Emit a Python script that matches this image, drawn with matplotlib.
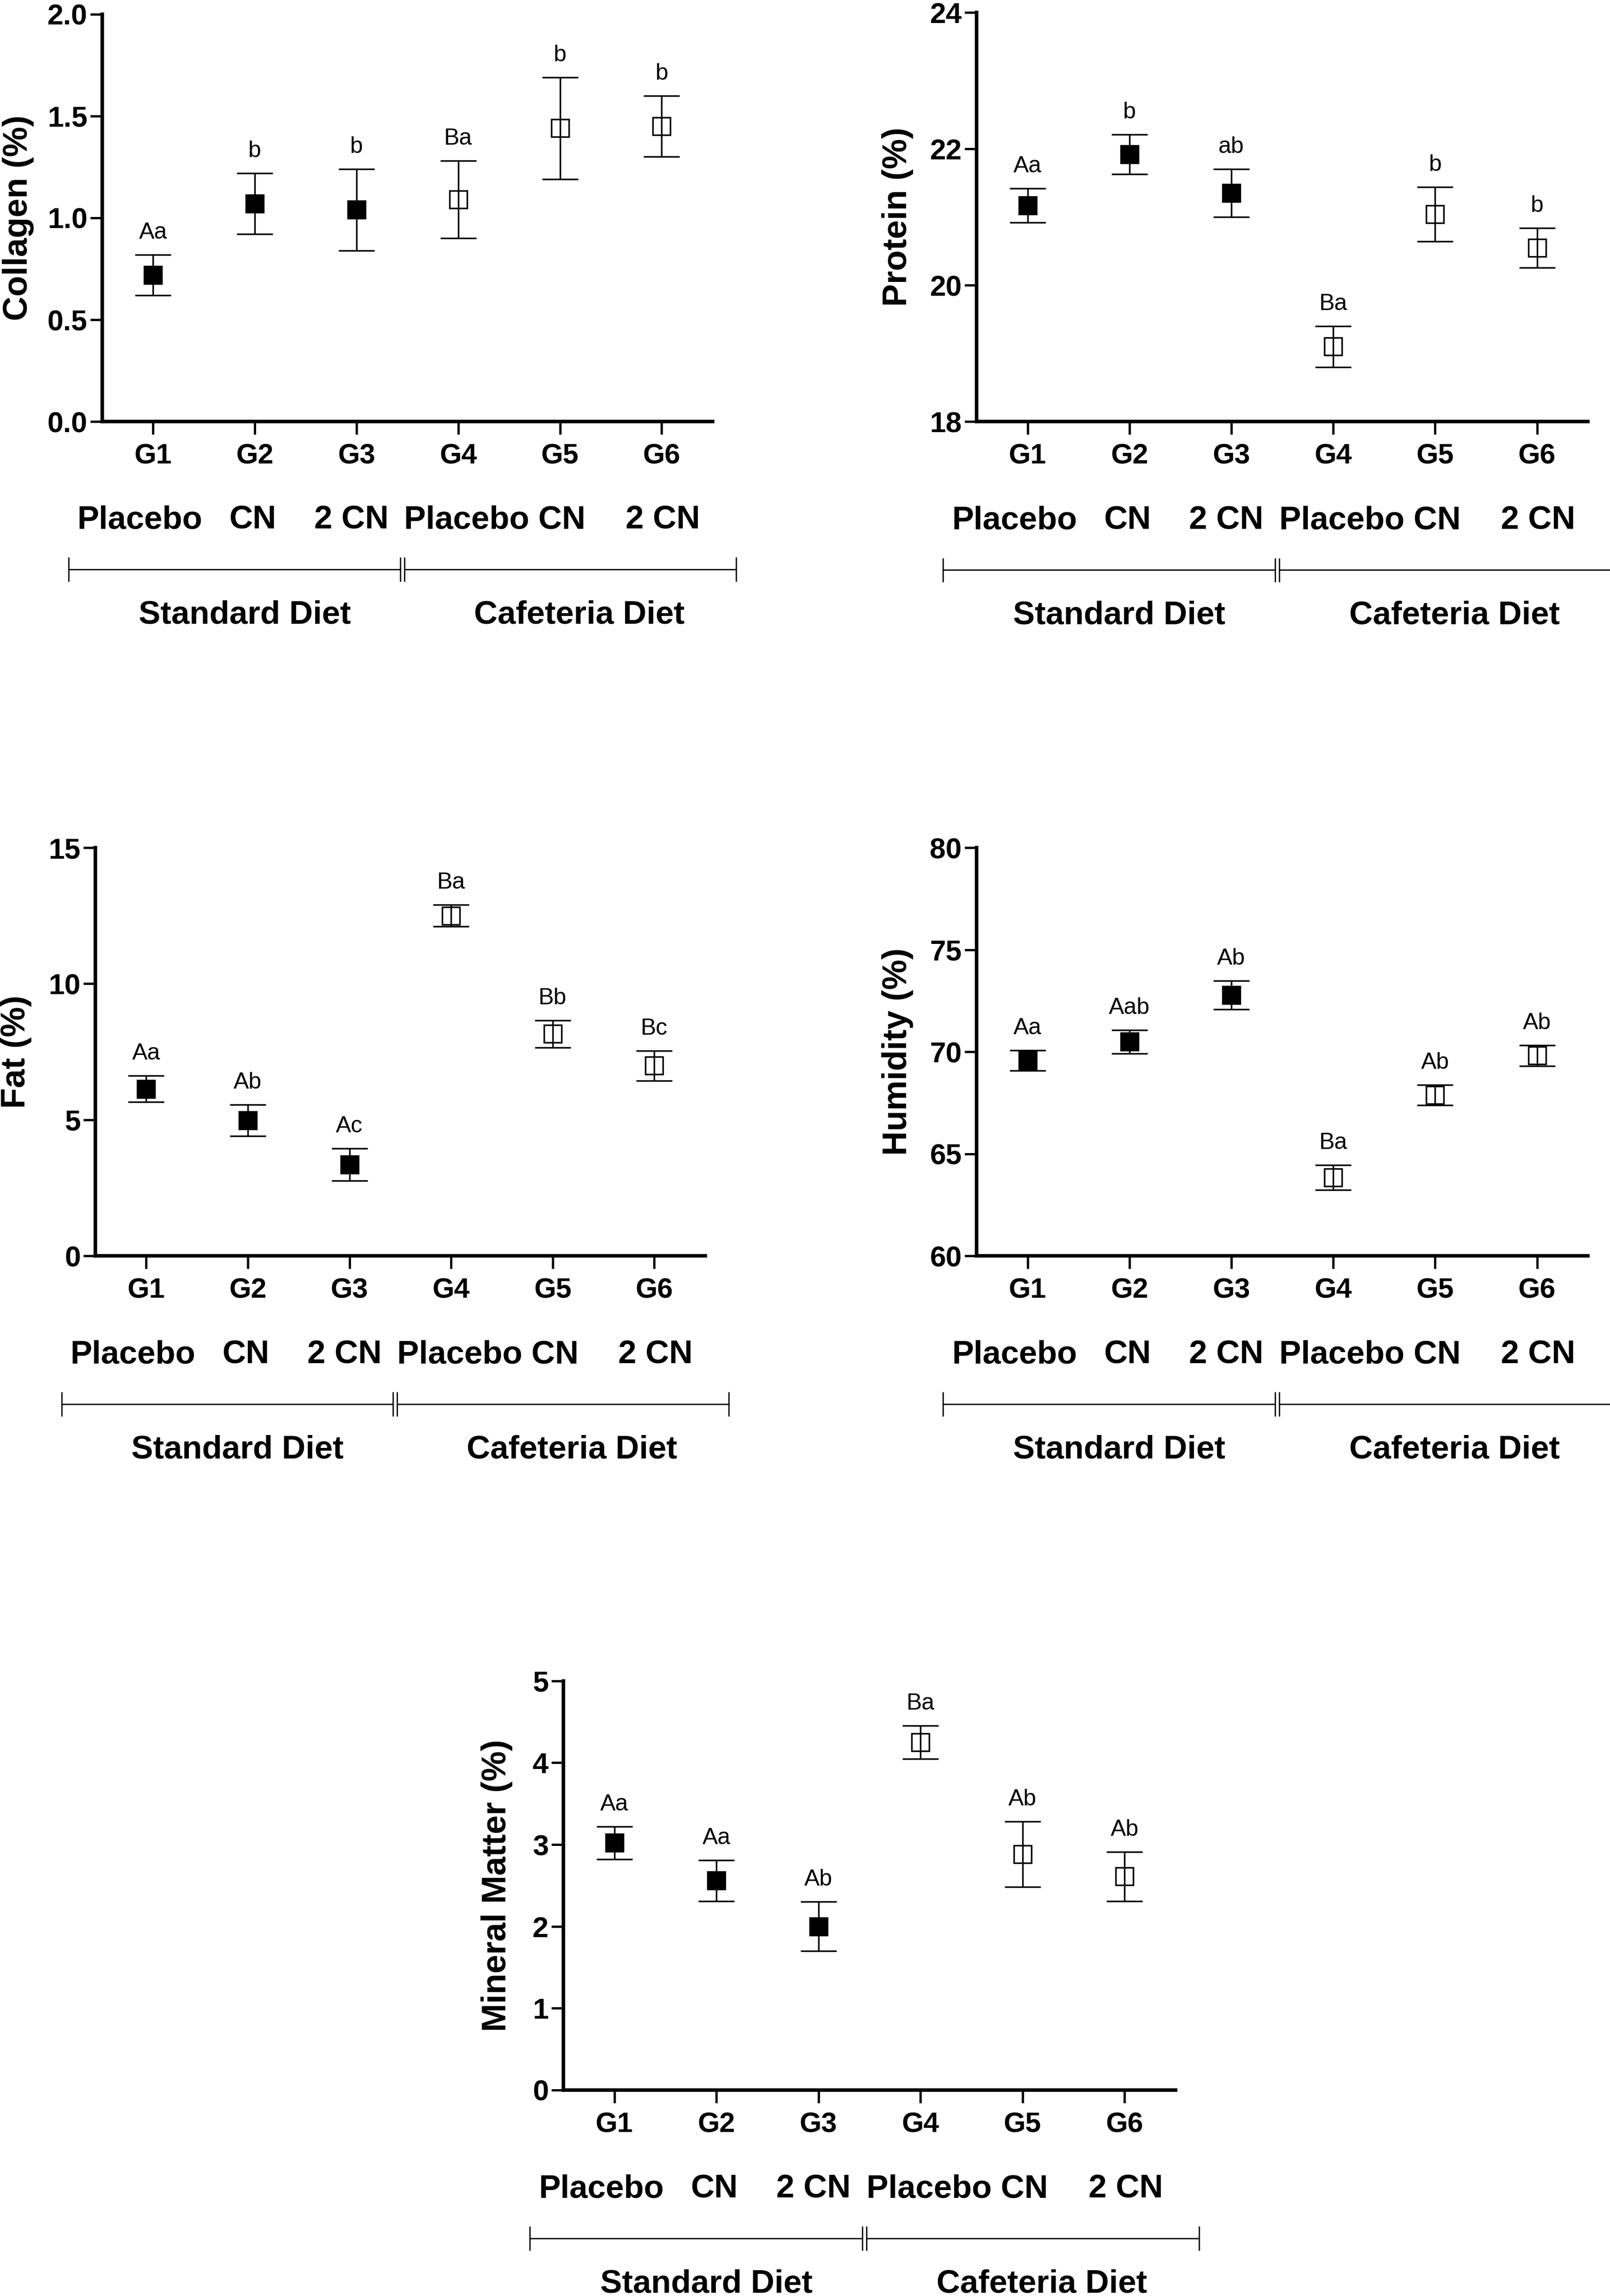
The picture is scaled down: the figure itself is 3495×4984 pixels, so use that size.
import numpy as np
import matplotlib.pyplot as plt
import matplotlib.transforms as mtransforms

plt.rcParams['font.family'] = ['Liberation Sans', 'DejaVu Sans']

# groups and treatments
groups = ['G1', 'G2', 'G3', 'G4', 'G5', 'G6']
treatments = ['Placebo', 'CN', '2 CN', 'Placebo CN', '2 CN']
treat_x = [0.87, 1.98, 2.95, 4.36, 6.01]
diets = ['Standard Diet', 'Cafeteria Diet']
diet_x = [1.9, 5.19]
diet_span = [(0.17, 3.43), (3.47, 6.73)]
filled = [True, True, True, False, False, False]

# values (mean, error)
collagen_mean = [0.72, 1.07, 1.04, 1.09, 1.44, 1.45]
collagen_err = [0.10, 0.15, 0.20, 0.19, 0.25, 0.15]
collagen_letters = ['Aa', 'b', 'b', 'Ba', 'b', 'b']

protein_mean = [21.17, 21.92, 21.35, 19.10, 21.04, 20.55]
protein_err = [0.25, 0.29, 0.35, 0.30, 0.40, 0.29]
protein_letters = ['Aa', 'b', 'ab', 'Ba', 'b', 'b']

fat_mean = [6.14, 4.98, 3.35, 12.50, 8.16, 6.99]
fat_err = [0.48, 0.57, 0.59, 0.40, 0.50, 0.55]
fat_letters = ['Aa', 'Ab', 'Ac', 'Ba', 'Bb', 'Bc']

humidity_mean = [69.57, 70.49, 72.78, 63.84, 67.89, 69.82]
humidity_err = [0.50, 0.58, 0.69, 0.61, 0.50, 0.51]
humidity_letters = ['Aa', 'Aab', 'Ab', 'Ba', 'Ab', 'Ab']

mineral_mean = [3.02, 2.56, 2.00, 4.25, 2.88, 2.61]
mineral_err = [0.20, 0.25, 0.30, 0.20, 0.40, 0.30]
mineral_letters = ['Aa', 'Aa', 'Ab', 'Ba', 'Ab', 'Ab']

panels = [
    ([0.0635, 0.8164, 0.3791, 0.1774], collagen_mean, collagen_err, collagen_letters,
     'Collagen (%)', (0, 2), [0, 0.5, 1.0, 1.5, 2.0], '%.1f', -0.112),
    ([0.6066, 0.8164, 0.3797, 0.1782], protein_mean, protein_err, protein_letters,
     'Protein (%)', (18, 24), [18, 20, 22, 24], '%d', -0.103),
    ([0.0592, 0.4530, 0.3788, 0.1778], fat_mean, fat_err, fat_letters,
     'Fat (%)', (0, 15), [0, 5, 10, 15], '%d', -0.104),
    ([0.6066, 0.4530, 0.3797, 0.1778], humidity_mean, humidity_err, humidity_letters,
     'Humidity (%)', (60, 80), [60, 65, 70, 75, 80], '%d', -0.103),
    ([0.3499, 0.0897, 0.3803, 0.1782], mineral_mean, mineral_err, mineral_letters,
     'Mineral Matter (%)', (0, 5), [0, 1, 2, 3, 4, 5], '%d', -0.083),
]

fig = plt.figure(figsize=(34.95, 49.84), dpi=100)

for pos, mean, err, letters, ylabel, ylim, yticks, fmt, labx in panels:
    ax = fig.add_axes(pos)
    x = np.arange(1, 7)
    for i in range(6):
        ax.errorbar(x[i], mean[i], yerr=err[i], fmt='none', ecolor='black',
                    elinewidth=2.5, capsize=28, capthick=2.5, zorder=3)
        ax.plot(x[i], mean[i], marker='s', markersize=27,
                markerfacecolor='black' if filled[i] else 'white',
                markeredgecolor='black', markeredgewidth=2.5, zorder=2)
        ax.annotate(letters[i], (x[i], mean[i] + err[i]), xytext=(0, 18),
                    textcoords='offset points', ha='center', va='bottom',
                    fontsize=36)

    ax.set_xlim(0.5, 6.5)
    ax.set_ylim(*ylim)
    ax.set_yticks(yticks)
    ax.set_yticklabels([fmt % v for v in yticks])
    ax.set_xticks(x)
    ax.set_xticklabels(groups)
    for side in ['top', 'right']:
        ax.spines[side].set_visible(False)
    for side in ['left', 'bottom']:
        ax.spines[side].set_linewidth(5.5)
    ax.tick_params(axis='y', length=19, width=3.6, pad=4, labelsize=45)
    ax.tick_params(axis='x', length=20, width=3.6, pad=14, labelsize=44)
    for lab in ax.get_xticklabels() + ax.get_yticklabels():
        lab.set_fontweight('bold')
    ax.set_ylabel(ylabel, fontsize=53, fontweight='bold')
    ax.yaxis.set_label_coords(labx, 0.5)

    trans = mtransforms.blended_transform_factory(ax.transData, ax.transAxes)
    for t, tx in zip(treatments, treat_x):
        ax.text(tx, -0.243, t, transform=trans, ha='center', va='center',
                fontsize=51, fontweight='bold')
    for (x0, x1), d, dx in zip(diet_span, diets, diet_x):
        ax.plot([x0, x1], [-0.363, -0.363], transform=trans, color='black',
                lw=2, clip_on=False)
        for xe in (x0, x1):
            ax.plot([xe, xe], [-0.335, -0.391], transform=trans, color='black',
                    lw=2, clip_on=False)
        ax.text(dx, -0.475, d, transform=trans, ha='center', va='center',
                fontsize=51, fontweight='bold')

fig.savefig('out.png', dpi=100)
